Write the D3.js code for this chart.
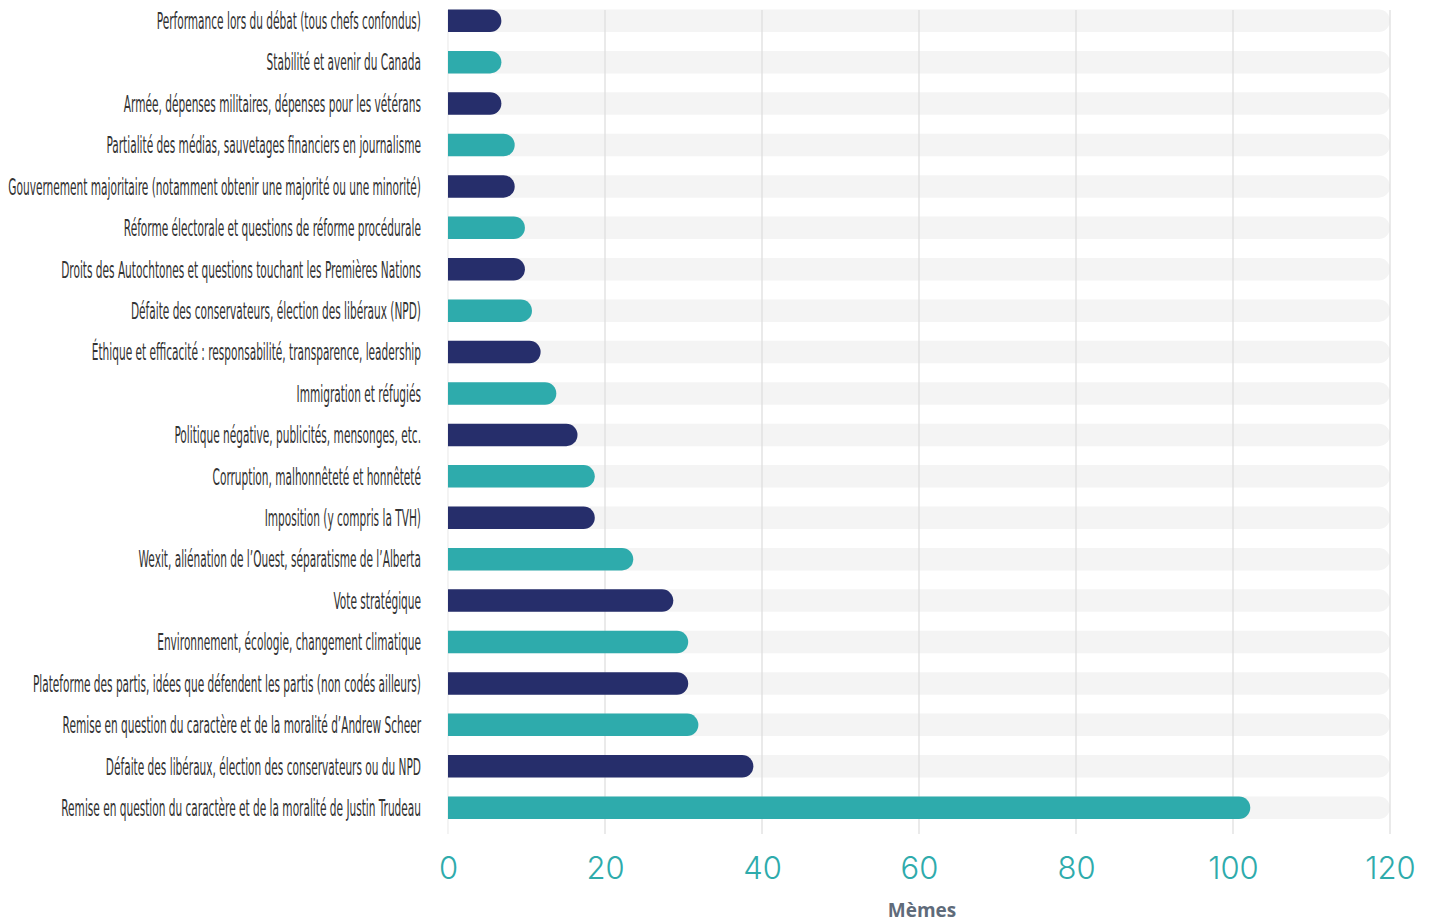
<!DOCTYPE html>
<html>
<head>
<meta charset="utf-8">
<script src="https://cdn.jsdelivr.net/npm/d3@7"></script>
<style>
  body { margin: 0; background: #fff; }
  .lbl { font-family: "Liberation Sans Narrow", "DejaVu Sans Condensed", sans-serif; font-size: 23px; fill: #333; }
  .tick text { font-family: Inter, "Noto Sans", sans-serif; font-weight: 300; font-size: 31px; fill: #2eabac; }
</style>
</head>
<body>
<div id="chart"></div>
<script>
var width = 1434, height = 922;
var mLeft = 448, mRight = 1390, mTop = 0, mBottom = 828.4;

// topics, top to bottom
const topics = [
  "Performance lors du débat (tous chefs confondus)",
  "Stabilité et avenir du Canada",
  "Armée, dépenses militaires, dépenses pour les vétérans",
  "Partialité des médias, sauvetages financiers en journalisme",
  "Gouvernement majoritaire (notamment obtenir une majorité ou une minorité)",
  "Réforme électorale et questions de réforme procédurale",
  "Droits des Autochtones et questions touchant les Premières Nations",
  "Défaite des conservateurs, élection des libéraux (NPD)",
  "Éthique et efficacité : responsabilité, transparence, leadership",
  "Immigration et réfugiés",
  "Politique négative, publicités, mensonges, etc.",
  "Corruption, malhonnêteté et honnêteté",
  "Imposition (y compris la TVH)",
  "Wexit, aliénation de l’Ouest, séparatisme de l’Alberta",
  "Vote stratégique",
  "Environnement, écologie, changement climatique",
  "Plateforme des partis, idées que défendent les partis (non codés ailleurs)",
  "Remise en question du caractère et de la moralité d’Andrew Scheer",
  "Défaite des libéraux, élection des conservateurs ou du NPD",
  "Remise en question du caractère et de la moralité de Justin Trudeau"
];
const memes = [6.8, 6.8, 6.8, 8.5, 8.5, 9.8, 9.8, 10.7, 11.8, 13.8,
               16.5, 18.7, 18.7, 23.6, 28.7, 30.6, 30.6, 31.9, 38.9, 102.2];
const xTicks = [0, 20, 40, 60, 80, 100, 120];
const xMax = 120;
const colors = ["#262e6b", "#2eabac"];
const axisTitle = "Mèmes";

var data = topics.map(function(t, i) { return {topic: t, value: memes[i], i: i}; });

var svg = d3.select('#chart').append('svg')
  .attr('width', width).attr('height', height);

var x = d3.scaleLinear().domain([0, xMax]).range([mLeft, mRight]);
var y = d3.scaleBand().domain(topics).range([mTop, mBottom])
  .paddingInner(0.457).paddingOuter(0.2285);

function roundRight(x0, x1, yTop, h) {
  var r = h / 2;
  var xe = Math.max(x0, x1 - r);
  return 'M' + x0 + ',' + yTop + 'H' + xe +
    'A' + r + ',' + r + ' 0 0 1 ' + xe + ',' + (yTop + h) +
    'H' + x0 + 'Z';
}

// tracks
svg.append('g').selectAll('path')
  .data(data).enter().append('path')
  .attr('d', function(d){ return roundRight(x(0), x(xMax), y(d.topic), y.bandwidth()); })
  .style('fill', '#f4f4f4');

// grid (above the tracks, below the bars)
svg.append('g').selectAll('line')
  .data(xTicks).enter().append('line')
  .attr('x1', function(d){ return x(d); })
  .attr('x2', function(d){ return x(d); })
  .attr('y1', 10).attr('y2', 834)
  .style('stroke', function(d){ return d === 0 ? '#ececec' : '#dcdcdc'; })
  .style('stroke-width', 1.2);

// bars
svg.append('g').selectAll('path')
  .data(data).enter().append('path')
  .attr('d', function(d){ return roundRight(x(0), x(d.value), y(d.topic), y.bandwidth()); })
  .style('fill', function(d){ return colors[(topics.length - 1 - d.i) % 2 === 0 ? 1 : 0]; });

// labels, squeezed to a condensed look
var lblG = svg.append('g');
var labels = lblG.selectAll('text')
  .data(data).enter().append('text')
  .attr('class', 'lbl')
  .attr('text-anchor', 'end')
  .attr('y', function(d){ return y(d.topic) + y.bandwidth() / 2; })
  .attr('dy', '0.36em')
  .text(function(d){ return d.topic; });

var longest = d3.max(labels.nodes(), function(n){ return n.getComputedTextLength(); });
var sx = 413 / longest;
labels.attr('x', 421 / sx);
lblG.attr('transform', 'scale(' + sx + ',1)');

// x axis
var xAxis = d3.axisBottom(x).tickValues(xTicks).tickSize(0).tickPadding(0);
var axG = svg.append('g').attr('transform', 'translate(0,857)').call(xAxis);
axG.select('.domain').remove();
axG.selectAll('.tick text').attr('dy', '0.71em');

svg.append('text')
  .attr('x', (mLeft + mRight) / 2 + 3)
  .attr('y', 917)
  .attr('text-anchor', 'middle')
  .style('font-family', '"Open Sans", sans-serif')
  .style('font-weight', 700)
  .style('font-size', '19px')
  .style('fill', '#5f6b7a')
  .text(axisTitle);
</script>
</body>
</html>
